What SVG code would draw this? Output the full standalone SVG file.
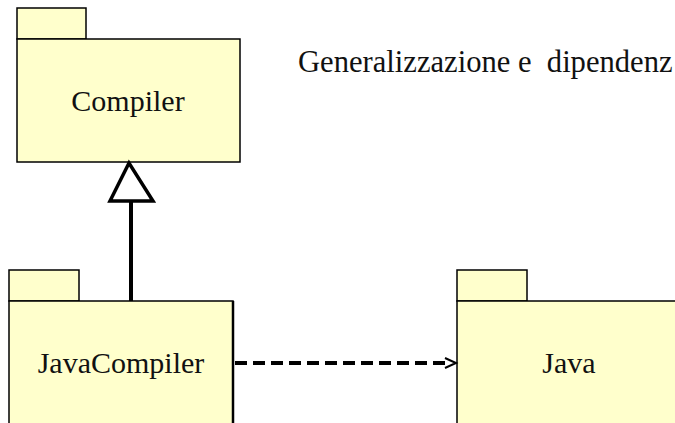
<svg xmlns="http://www.w3.org/2000/svg" width="675" height="423" viewBox="0 0 675 423">
<style>
.pkg{fill:#FFFFCC;stroke:#000;stroke-width:1.5}
.lbl{font-family:"Liberation Serif","Times New Roman",serif;font-size:30px;fill:#111}
</style>
<rect width="675" height="423" fill="#fff"/>
<text class="lbl" x="298" y="72" style="font-size:30.6px" xml:space="preserve">Generalizzazione e  dipendenz</text>
<g id="Compiler">
<rect class="pkg" x="17" y="8" width="69" height="31"/>
<rect class="pkg" x="17" y="39" width="223" height="123"/>
<text class="lbl" x="128" y="111" text-anchor="middle">Compiler</text>
</g>
<g id="JavaCompiler">
<rect class="pkg" x="9" y="270" width="70" height="31"/>
<rect class="pkg" x="9" y="301" width="224" height="130"/>
<line x1="233" y1="301" x2="233" y2="423" stroke="#000" stroke-width="2.5"/>
<text class="lbl" x="121" y="373" text-anchor="middle">JavaCompiler</text>
</g>
<g id="Java">
<rect class="pkg" x="457" y="270" width="70" height="31"/>
<rect class="pkg" x="457" y="301" width="230" height="130"/>
<text class="lbl" x="569" y="373" text-anchor="middle">Java</text>
</g>
<g id="connectors">
<line x1="131" y1="201" x2="131" y2="301" stroke="#000" stroke-width="4"/>
<polygon points="129,163 110,201 153,201" fill="#fff" stroke="#000" stroke-width="3.5" stroke-linejoin="miter"/>
<line x1="235" y1="363" x2="446" y2="363" stroke="#000" stroke-width="4" stroke-dasharray="12 6"/>
<path d="M445,358 L456,363 L445,368" fill="none" stroke="#000" stroke-width="2"/>
</g>
</svg>
